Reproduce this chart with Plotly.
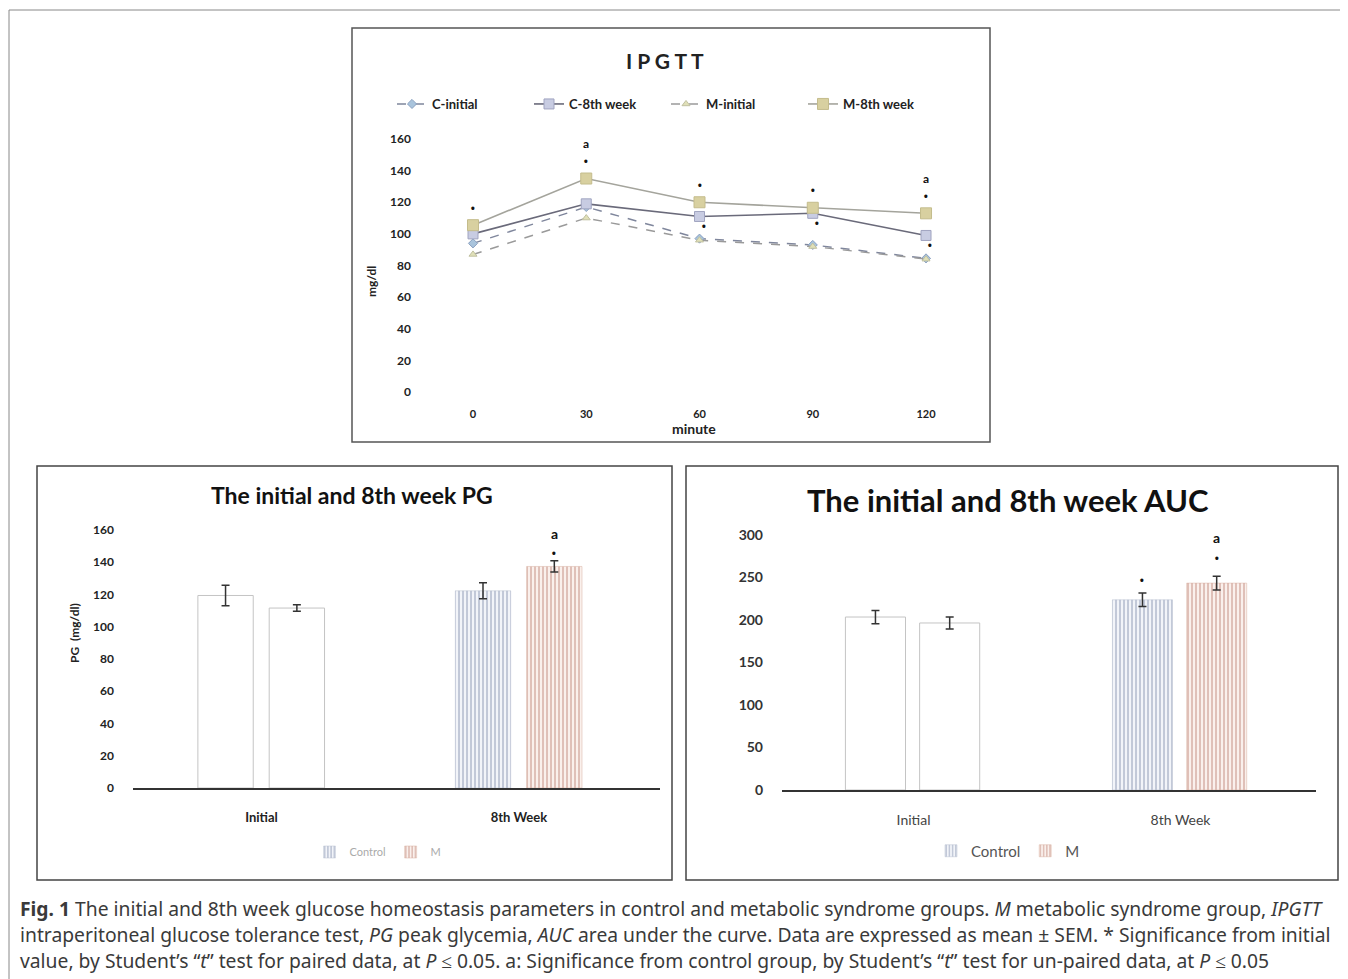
import plotly.graph_objects as go

W, H = 1340, 971   # page has an 8px body margin; figure drawn inside it
OFF = 8

# ---------------- data ----------------
minutes = [0, 30, 60, 90, 120]
c_initial = [94, 117, 97, 93, 84.5]
c_8th = [100, 119, 111, 113, 99]
m_initial = [87, 110, 96, 92, 84]
m_8th = [105.5, 135, 120, 116.5, 113]
m8_star = [1, 1, 1, 1, 1]
m8_a = [0, 1, 0, 0, 1]
c8_star = [0, 0, 1, 1, 1]

groups = ["Initial", "8th Week"]
pg_control = [119.4, 122.3]
pg_control_err = [6.3, 5.0]
pg_m = [111.6, 137.4]
pg_m_err = [2.0, 3.5]
pg_control_star = [0, 0]
pg_m_star = [0, 1]
pg_m_a = [0, 1]

auc_control = [203.5, 223.8]
auc_control_err = [7.8, 8.0]
auc_m = [196.5, 243.4]
auc_m_err = [7.0, 8.0]
auc_control_star = [0, 1]
auc_m_star = [0, 1]
auc_m_a = [0, 1]

caption_lines = [
    "<b>Fig. 1</b> The initial and 8th week glucose homeostasis parameters in control and metabolic syndrome groups. <i>M</i> metabolic syndrome group, <i>IPGTT</i>",
    "intraperitoneal glucose tolerance test, <i>PG</i> peak glycemia, <i>AUC</i> area under the curve. Data are expressed as mean ± SEM. * Significance from initial",
    "value, by Student’s “<i>t</i>” test for paired data, at <i>P</i> ≤ 0.05. a: Significance from control group, by Student’s “<i>t</i>” test for un-paired data, at <i>P</i> ≤ 0.05",
]


def px(x):
    return (x - OFF) / W


def py(y):
    return 1 - (y - OFF) / H


FONT = "Lato"
fig = go.Figure()

# ---------------- IPGTT ----------------
line_specs = [
    ("C-initial", c_initial, dict(color="#7f869c", width=1.5, dash="dash"),
     dict(symbol="diamond", size=7, color="#a9c4dc", line=dict(color="#8aa0c0", width=1))),
    ("C-8th week", c_8th, dict(color="#6a6a7a", width=1.6),
     dict(symbol="square", size=10, color="#c8cce2", line=dict(color="#a0a4c0", width=1))),
    ("M-initial", m_initial, dict(color="#9a9a9a", width=1.5, dash="dash"),
     dict(symbol="triangle-up", size=7, color="#e0e0b8", line=dict(color="#c0c0a0", width=1))),
    ("M-8th week", m_8th, dict(color="#a4a49c", width=1.6),
     dict(symbol="square", size=11, color="#d8d0a0", line=dict(color="#c4bc8c", width=1))),
]
for name, vals, ln, mk in line_specs:
    fig.add_trace(go.Scatter(x=minutes, y=vals, name=name, mode="lines+markers",
                             line=ln, marker=mk, xaxis="x", yaxis="y", legend="legend"))


def add_bar_set(ctrl, ctrl_err, mm, mm_err, xa, ya, leg, off_c, off_m, wid):
    pat_c = dict(shape="|", fgcolor="#7a88a8", bgcolor="#f2f4f9", size=4, solidity=0.4)
    pat_m = dict(shape="|", fgcolor="#b87868", bgcolor="#faf0ec", size=4, solidity=0.4)
    eb = lambda arr: dict(type="data", array=arr, color="#333333", thickness=1.5, width=4)
    fig.add_trace(go.Bar(x=[0], y=[ctrl[0]], width=wid, offset=off_c, name="Control",
                         marker=dict(color="white", line=dict(color="#c4c4c4", width=1)),
                         error_y=eb([ctrl_err[0]]), xaxis=xa, yaxis=ya, showlegend=False, legend=leg))
    fig.add_trace(go.Bar(x=[0], y=[mm[0]], width=wid, offset=off_m, name="M",
                         marker=dict(color="white", line=dict(color="#c4c4c4", width=1)),
                         error_y=eb([mm_err[0]]), xaxis=xa, yaxis=ya, showlegend=False, legend=leg))
    fig.add_trace(go.Bar(x=[1], y=[ctrl[1]], width=wid, offset=off_c, name="Control",
                         marker=dict(color="#f2f4f9", pattern=pat_c, line=dict(color="#b8c0d0", width=0.5)),
                         error_y=eb([ctrl_err[1]]), xaxis=xa, yaxis=ya, legend=leg))
    fig.add_trace(go.Bar(x=[1], y=[mm[1]], width=wid, offset=off_m, name="M",
                         marker=dict(color="#faf0ec", pattern=pat_m, line=dict(color="#d8b0a0", width=0.5)),
                         error_y=eb([mm_err[1]]), xaxis=xa, yaxis=ya, legend=leg))


add_bar_set(pg_control, pg_control_err, pg_m, pg_m_err, "x2", "y2", "legend2", -0.247, 0.03, 0.215)
add_bar_set(auc_control, auc_control_err, auc_m, auc_m_err, "x3", "y3", "legend3", -0.255, 0.023, 0.225)

ann = []
DOT = dict(size=15, color="#111")
for i, t in enumerate(minutes):
    if m8_star[i]:
        ann.append(dict(x=t, y=m_8th[i] + 11, xref="x", yref="y", text="•", showarrow=False,
                        xanchor="center", font=DOT, yanchor="middle"))
    if m8_a[i]:
        ann.append(dict(x=t, y=m_8th[i] + 22, xref="x", yref="y", text="a", showarrow=False,
                        xanchor="center", font=dict(size=12, color="#111", family=FONT, weight="bold"),
                        yanchor="middle"))
    if c8_star[i]:
        ann.append(dict(x=t, y=c_8th[i] - 6, xref="x", yref="y", text="•", showarrow=False,
                        xanchor="center", xshift=4, font=DOT, yanchor="middle"))


def sig_marks(vals, errs, stars, a_s, xoff, wid, xr, yr, star_off, a_off):
    for i in range(len(vals)):
        xc = i + xoff + wid / 2
        top = vals[i] + errs[i]
        if stars[i]:
            ann.append(dict(x=xc, y=top + star_off, xref=xr, yref=yr, text="•", showarrow=False,
                            xanchor="center", font=dict(size=15, color="#111"), yanchor="middle"))
        if a_s[i]:
            ann.append(dict(x=xc, y=top + a_off, xref=xr, yref=yr, text="a", showarrow=False,
                            xanchor="center", font=dict(size=14, color="#111", family=FONT, weight="bold"),
                            yanchor="middle"))


sig_marks(pg_control, pg_control_err, pg_control_star, [0, 0], -0.247, 0.215, "x2", "y2", 5, 17)
sig_marks(pg_m, pg_m_err, pg_m_star, pg_m_a, 0.03, 0.215, "x2", "y2", 5, 17)
sig_marks(auc_control, auc_control_err, auc_control_star, [0, 0], -0.255, 0.225, "x3", "y3", 15, 44)
sig_marks(auc_m, auc_m_err, auc_m_star, auc_m_a, 0.023, 0.225, "x3", "y3", 22, 46)


def pa(x, y, text, size, color="#222", bold=True, angle=0, family=FONT):
    d = dict(x=px(x), y=py(y), xref="paper", yref="paper", text=text, showarrow=False,
             xanchor="center", yanchor="middle", textangle=angle,
             font=dict(size=size, family=family, color=color, weight="bold" if bold else "normal"))
    return d


ann += [
    pa(665, 61, "I P G T T", 21, "#222"),
    pa(694, 428, "minute", 14),
    pa(371, 282, "mg/dl", 12, angle=-90),
    pa(352, 495, "The initial and 8th week PG", 23, "#111"),
    pa(74, 633, "PG  (mg/dl)", 12, angle=-90),
    pa(1008, 500, "The initial and 8th week AUC", 31, "#111"),
]
for k, line in enumerate(caption_lines):
    ann.append(dict(x=px(18), y=py(908 + 26 * k), xref="paper", yref="paper", text=line, showarrow=False,
                    xanchor="left", yanchor="middle", align="left",
                    font=dict(size=19.3, family="Noto Sans", color="#3a3a3a")))

shapes = [
    dict(type="line", xref="paper", yref="paper", x0=px(9), x1=px(1348), y0=py(10), y1=py(10),
         line=dict(color="#888", width=1)),
    dict(type="line", xref="paper", yref="paper", x0=px(9), x1=px(9), y0=py(10), y1=py(979),
         line=dict(color="#888", width=1)),
    dict(type="rect", xref="paper", yref="paper", x0=px(352), x1=px(990), y0=py(28), y1=py(442),
         line=dict(color="#555", width=1.5)),
    dict(type="rect", xref="paper", yref="paper", x0=px(37), x1=px(672), y0=py(466), y1=py(880),
         line=dict(color="#444", width=1.5)),
    dict(type="rect", xref="paper", yref="paper", x0=px(686), x1=px(1338), y0=py(466), y1=py(880),
         line=dict(color="#444", width=1.5)),
]

tick_bold = dict(size=12, family=FONT, color="#222", weight="bold")

fig.update_layout(
    width=W, height=H, margin=dict(l=0, r=0, t=0, b=0, autoexpand=False),
    paper_bgcolor="white", plot_bgcolor="white",
    barmode="overlay",
    showlegend=True,
    annotations=ann, shapes=shapes,
    xaxis=dict(domain=[px(420), px(980)], range=[-14.04, 134.3], tickvals=minutes,
               ticktext=[str(m) for m in minutes], showgrid=False, zeroline=False, showline=False,
               tickfont=dict(size=11, family=FONT, color="#222", weight="bold"), ticklabelstandoff=14,
               anchor="y"),
    yaxis=dict(domain=[py(392), py(139)], range=[0, 160], dtick=20, showgrid=False, zeroline=False,
               showline=False, tickfont=tick_bold, ticklabelstandoff=8, anchor="x"),
    xaxis2=dict(domain=[px(133), px(660)], range=[-0.499, 1.548], tickvals=[0, 1], ticktext=groups,
                showgrid=False, zeroline=False, showline=True, linecolor="#333", linewidth=2,
                tickfont=dict(size=13, family=FONT, color="#222", weight="bold"), ticklabelstandoff=16,
                anchor="y2"),
    yaxis2=dict(domain=[py(788), py(530)], range=[0, 160], dtick=20, showgrid=False, zeroline=False,
                showline=False, tickfont=tick_bold, ticklabelstandoff=18, anchor="x2"),
    xaxis3=dict(domain=[px(782), px(1316)], range=[-0.4925, 1.5075], tickvals=[0, 1], ticktext=groups,
                showgrid=False, zeroline=False, showline=True, linecolor="#333", linewidth=2,
                tickfont=dict(size=14, family=FONT, color="#444"), ticklabelstandoff=16,
                anchor="y3"),
    yaxis3=dict(domain=[py(790), py(535)], range=[0, 300], dtick=50, showgrid=False, zeroline=False,
                showline=False, tickfont=dict(size=14, family=FONT, color="#333", weight="bold"),
                ticklabelstandoff=18, anchor="x3"),
    legend=dict(orientation="h", x=px(392), y=py(104), xanchor="left", yanchor="middle",
                font=dict(size=13, family=FONT, color="#222", weight="bold"), bgcolor="rgba(0,0,0,0)",
                traceorder="normal", entrywidth=92, entrywidthmode="pixels"),
    legend2=dict(orientation="h", x=px(378), y=py(852), xanchor="center", yanchor="middle",
                 font=dict(size=11, family=FONT, color="#aaaaaa"), bgcolor="rgba(0,0,0,0)",
                 itemwidth=30),
    legend3=dict(orientation="h", x=px(1008), y=py(851), xanchor="center", yanchor="middle",
                 font=dict(size=15, family=FONT, color="#555"), bgcolor="rgba(0,0,0,0)",
                 itemwidth=30),
)

fig.write_html("out.html")
